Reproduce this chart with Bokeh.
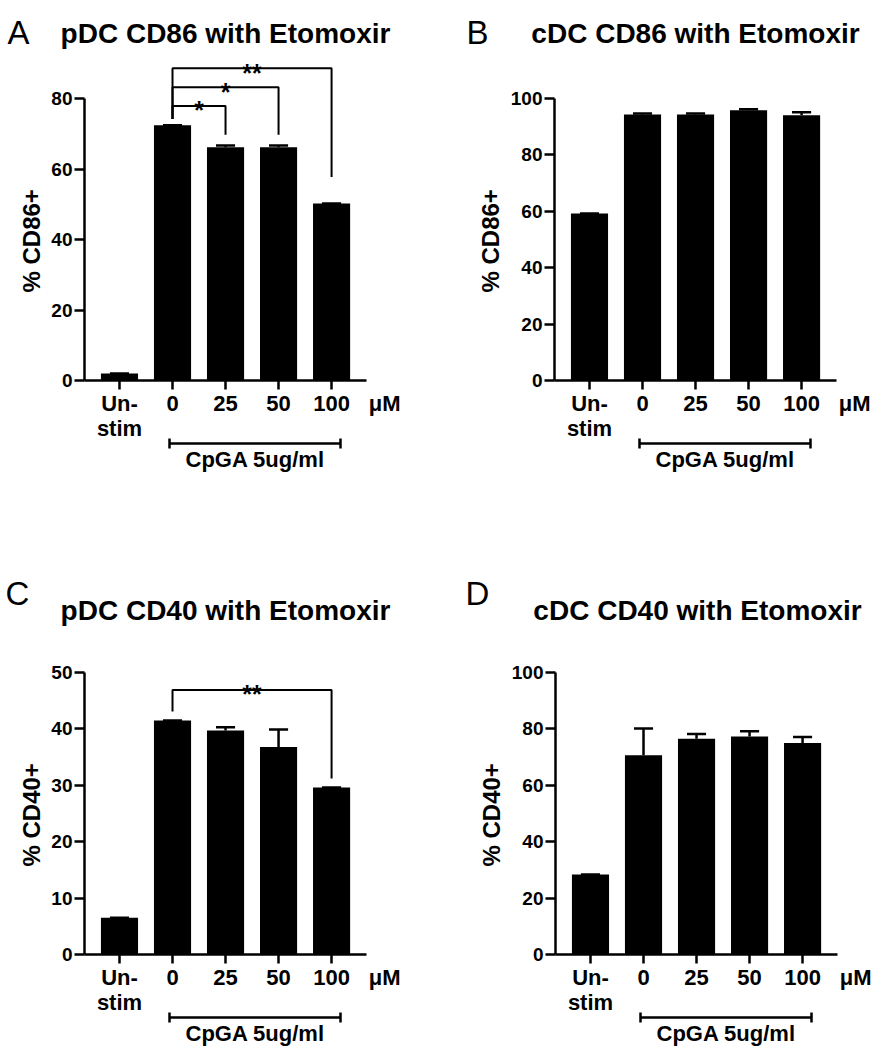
from bokeh.plotting import figure
from bokeh.layouts import column, row
from bokeh.models import Range1d, FixedTicker, LinearAxis, Title
from bokeh.core.properties import value
from bokeh.embed import file_html
from bokeh.resources import INLINE

# ---------------- data ----------------
categories = ["Un-\nstim", "0", "25", "50", "100"]
unit_label = "μM"
stim_label = "CpGA 5ug/ml"

pdc_cd86_mean = [2.0, 72.4, 66.2, 66.2, 50.2]
pdc_cd86_err = [0.0, 0.0, 0.5, 0.5, 0.0]
cdc_cd86_mean = [59.2, 94.3, 94.3, 95.8, 94.1]
cdc_cd86_err = [0.0, 0.4, 0.35, 0.4, 1.0]
pdc_cd40_mean = [6.5, 41.5, 39.7, 36.8, 29.6]
pdc_cd40_err = [0.0, 0.0, 0.6, 3.1, 0.0]
cdc_cd40_mean = [28.4, 70.7, 76.5, 77.3, 75.0]
cdc_cd40_err = [0.0, 9.4, 1.7, 1.9, 2.1]

# significance brackets
pdc_cd86_sig_from = [1, 1, 1]
pdc_cd86_sig_to = [2, 3, 4]
pdc_cd86_sig_top = [77.9, 83.2, 88.6]
pdc_cd86_sig_left_end = [74.2, 74.2, 74.2]
pdc_cd86_sig_right_end = [69.7, 69.7, 57.7]
pdc_cd86_sig_text = ["*", "*", "**"]

pdc_cd40_sig_from = [1]
pdc_cd40_sig_to = [4]
pdc_cd40_sig_top = [46.9]
pdc_cd40_sig_left_end = [43.1]
pdc_cd40_sig_right_end = [31.2]
pdc_cd40_sig_text = ["**"]

stim_span = [0.95, 4.16]      # category positions covered by the CpGA bracket
unit_pos = 5.0                # category position of the unit label

# ---------------- styling ----------------
FONT = "Liberation Sans"
FW = 316          # frame width (px)
AXH = 282         # pixel height of the y-axis span
X0, XB, XR = -0.66, 4.66, 5.30
PANEL_W = 438
YLABEL_START = 88   # px from the frame bottom where the y caption begins
STIM_TEXT_LEFT = 101  # px from the frame left where the CpGA caption begins


def style_text_axis(ax, size):
    ax.major_label_text_font = FONT
    ax.major_label_text_font_style = "bold"
    ax.major_label_text_font_size = size
    ax.major_label_text_color = "black"


def main_fig(ylabel, means, errs, ymax, ystep, left, top, bottom, frame_h=AXH, sig=None):
    scale = AXH / ymax
    yend = frame_h / scale
    p = figure(frame_width=FW, frame_height=frame_h, output_backend="svg", toolbar_location=None,
               x_range=Range1d(X0, XR), y_range=Range1d(0, yend),
               min_border_left=left, min_border_right=PANEL_W - left - FW,
               min_border_top=top, min_border_bottom=bottom)
    p.outline_line_color = None
    p.grid.visible = False
    p.background_fill_color = "white"
    p.border_fill_color = "white"

    xs = list(range(len(categories)))
    p.vbar(x=xs, top=means, width=0.70, fill_color="black", line_color=None)
    upper = [m + e for m, e in zip(means, errs)]
    p.segment(x0=xs, y0=means, x1=xs, y1=upper, line_color="black", line_width=2.5)
    p.segment(x0=[x - 0.18 for x in xs], y0=upper, x1=[x + 0.18 for x in xs], y1=upper,
              line_color="black", line_width=2.5)

    # y axis
    yax = p.yaxis[0]
    yax.ticker = FixedTicker(ticks=list(range(0, ymax + 1, ystep)))
    yax.bounds = (0, ymax)
    yax.minor_tick_line_color = None
    yax.axis_line_width = 2.5
    yax.major_tick_line_width = 2.5
    yax.major_tick_out = 10
    yax.major_tick_in = 0
    yax.major_label_standoff = 2
    style_text_axis(yax, "19px")
    p.add_layout(Title(text=ylabel, align="left", offset=YLABEL_START, standoff=7,
                       text_font=FONT, text_font_style="bold", text_font_size="24px",
                       text_color="black"), "left")

    # x axis line with category ticks
    xax = p.xaxis[0]
    xax.ticker = FixedTicker(ticks=xs)
    xax.bounds = (X0, XB)
    xax.major_label_overrides = {i: "" for i in xs}
    xax.major_label_text_font_size = "0px"
    xax.major_label_standoff = 0
    xax.minor_tick_line_color = None
    xax.axis_line_width = 2.5
    xax.major_tick_line_width = 2.5
    xax.major_tick_out = 9
    xax.major_tick_in = 0

    # category labels + unit
    lab = LinearAxis(ticker=FixedTicker(ticks=xs + [unit_pos]), bounds=(X0, XR))
    ov = {i: c for i, c in enumerate(categories)}
    ov[unit_pos] = unit_label
    lab.major_label_overrides = ov
    lab.axis_line_color = None
    lab.major_tick_line_color = None
    lab.minor_tick_line_color = None
    lab.major_tick_out = 0
    lab.major_tick_in = 0
    lab.major_label_standoff = 1
    style_text_axis(lab, "22px")
    lab.major_label_text_line_height = 1.0
    p.add_layout(lab, "below")

    # stimulation bracket
    br = LinearAxis(ticker=FixedTicker(ticks=stim_span), bounds=tuple(stim_span))
    br.major_label_overrides = {t: "" for t in stim_span}
    br.major_label_text_font_size = "0px"
    br.major_label_standoff = 0
    br.minor_tick_line_color = None
    br.axis_line_width = 2.5
    br.major_tick_line_width = 2.5
    br.major_tick_in = 5
    br.major_tick_out = 5
    p.add_layout(br, "below")
    p.add_layout(Title(text=stim_label, align="left", offset=STIM_TEXT_LEFT, standoff=-7,
                       text_font=FONT, text_font_style="bold", text_font_size="22px",
                       text_color="black"), "below")

    # significance brackets
    if sig is not None:
        f, t, tops, lends, rends, texts = sig
        p.multi_line(xs=[[a, a, b, b] for a, b in zip(f, t)],
                     ys=[[le, tp, tp, re] for tp, le, re in zip(tops, lends, rends)],
                     line_color="black", line_width=2)
        p.text(x=[(a + b) / 2 for a, b in zip(f, t)], y=[tp - 4.5 / scale for tp in tops],
               text=texts, text_align="center", text_baseline="alphabetic",
               text_font=value(FONT), text_font_style="bold", text_font_size=value("25px"),
               text_color="black")
    return p


def header(height, letter, lx, ly, title, tx, ty):
    h = figure(width=PANEL_W, height=height, output_backend="svg", toolbar_location=None,
               x_range=Range1d(0, PANEL_W), y_range=Range1d(height, 0),
               x_axis_type=None, y_axis_type=None, min_border=0)
    h.outline_line_color = None
    h.grid.visible = False
    h.text(x=[lx], y=[ly], text=[letter], text_align="left", text_baseline="alphabetic",
           text_font=value(FONT), text_font_style="normal", text_font_size=value("33px"),
           text_color="black")
    h.text(x=[tx], y=[ty], text=[title], text_align="center", text_baseline="alphabetic",
           text_font=value(FONT), text_font_style="bold", text_font_size=value("28px"),
           text_color="black")
    return h


ha = header(50, "A", 7, 32, "pDC CD86 with Etomoxir", 225, 33)
hb = header(50, "B", 28, 32, "cDC CD86 with Etomoxir", 257, 33)
pa = main_fig("% CD86+", pdc_cd86_mean, pdc_cd86_err, 80, 20, 84, 0, 140, frame_h=330,
              sig=(pdc_cd86_sig_from, pdc_cd86_sig_to, pdc_cd86_sig_top,
                   pdc_cd86_sig_left_end, pdc_cd86_sig_right_end, pdc_cd86_sig_text))
pb = main_fig("% CD86+", cdc_cd86_mean, cdc_cd86_err, 100, 20, 116, 0, 140, frame_h=330)

hc = header(108, "C", 5, 73, "pDC CD40 with Etomoxir", 225, 90)
hd = header(108, "D", 27, 73, "cDC CD40 with Etomoxir", 259, 90)
pc = main_fig("% CD40+", pdc_cd40_mean, pdc_cd40_err, 50, 10, 84, 44, 94,
              sig=(pdc_cd40_sig_from, pdc_cd40_sig_to, pdc_cd40_sig_top,
                   pdc_cd40_sig_left_end, pdc_cd40_sig_right_end, pdc_cd40_sig_text))
pd_ = main_fig("% CD40+", cdc_cd40_mean, cdc_cd40_err, 100, 20, 117, 44, 94)

layout = column(row(ha, hb), row(pa, pb), row(hc, hd), row(pc, pd_))
open("out.html", "w").write(file_html(layout, INLINE))
